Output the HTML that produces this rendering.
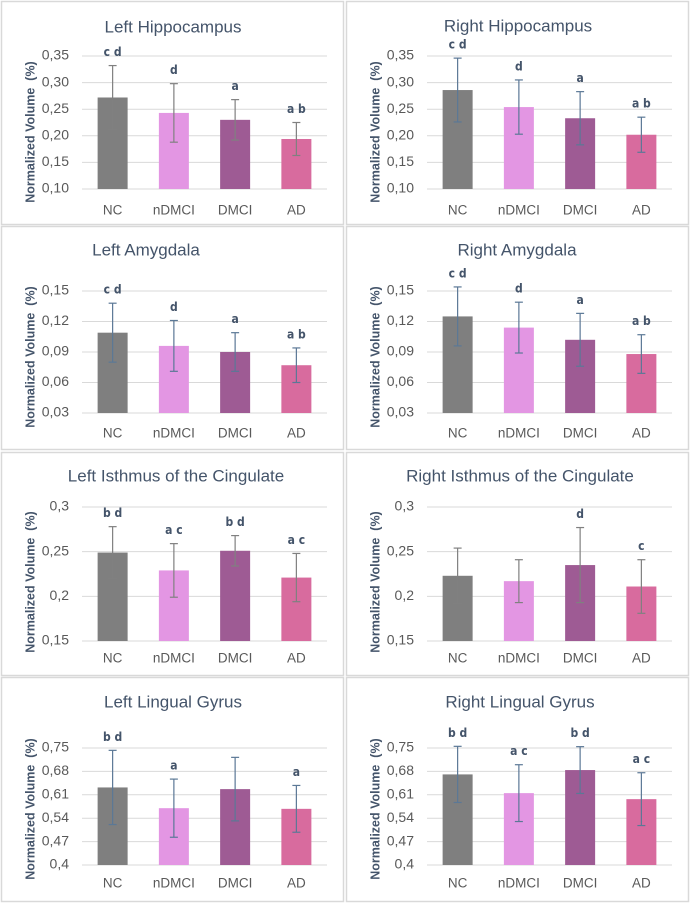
<!DOCTYPE html>
<html><head><meta charset="utf-8">
<style>
html,body{margin:0;padding:0;background:#fff;}
svg{display:block;}
.title{font-family:"Liberation Sans",sans-serif;font-size:17px;fill:#44546a;}
.tick{font-family:"Liberation Sans",sans-serif;font-size:14px;fill:#595959;}
.cat{font-family:"Liberation Sans",sans-serif;font-size:13.5px;fill:#595959;}
.ytitle{font-family:"Liberation Sans",sans-serif;font-size:12.5px;font-weight:bold;fill:#44546a;}
.sig{font-family:"DejaVu Sans Condensed","DejaVu Sans",sans-serif;font-size:12px;font-weight:bold;fill:#44546a;}
</style></head>
<body>
<svg id="fig" width="691" height="904" viewBox="0 0 691 904"></svg>
<script>
const categories = ["NC","nDMCI","DMCI","AD"];
const lhMeans = [0.272,0.243,0.230,0.194];
const lhSds = [0.060,0.055,0.038,0.031];
const lhSig = ["c d","d","a","a b"];
const rhMeans = [0.286,0.254,0.233,0.202];
const rhSds = [0.060,0.051,0.050,0.033];
const rhSig = ["c d","d","a","a b"];
const laMeans = [0.109,0.096,0.090,0.077];
const laSds = [0.029,0.025,0.019,0.017];
const laSig = ["c d","d","a","a b"];
const raMeans = [0.125,0.114,0.102,0.088];
const raSds = [0.029,0.025,0.026,0.019];
const raSig = ["c d","d","a","a b"];
const liMeans = [0.249,0.229,0.251,0.221];
const liSds = [0.029,0.030,0.017,0.027];
const liSig = ["b d","a c","b d","a c"];
const riMeans = [0.223,0.217,0.235,0.211];
const riSds = [0.031,0.024,0.042,0.030];
const riSig = ["","","d","c"];
const llMeans = [0.632,0.570,0.627,0.568];
const llSds = [0.111,0.087,0.095,0.070];
const llSig = ["b d","a","","a"];
const rlMeans = [0.671,0.615,0.684,0.597];
const rlSds = [0.084,0.085,0.070,0.079];
const rlSig = ["b d","a c","b d","a c"];
const hippoTicks = ["0,10","0,15","0,20","0,25","0,30","0,35"];
const amygTicks = ["0,03","0,06","0,09","0,12","0,15"];
const isthTicks = ["0,15","0,2","0,25","0,3"];
const lingTicks = ["0,4","0,47","0,54","0,61","0,68","0,75"];

const barColors = ["#7f7f7f","#e396e3","#9e5b94","#d86b9e"];
const NS = "http://www.w3.org/2000/svg";
const svg = document.getElementById("fig");

function mk(tag, attrs, parent){
  const e = document.createElementNS(NS, tag);
  for (const k in attrs) e.setAttribute(k, attrs[k]);
  (parent||svg).appendChild(e);
  return e;
}
function parseTick(t){ return parseFloat(t.replace(",", ".")); }

const panels = [
  {title:"Left Hippocampus", slug:"left-hippocampus", means:lhMeans, sds:lhSds, sig:lhSig, ticks:hippoTicks, ox:0, top:1, bot:224, gTop:56, gBot:189, ty:28, tx:173, cy:211, yt:132, err:"#808080"},
  {title:"Right Hippocampus", slug:"right-hippocampus", means:rhMeans, sds:rhSds, sig:rhSig, ticks:hippoTicks, ox:345, top:1, bot:224, gTop:56, gBot:189, ty:27, tx:173, cy:211, yt:132, err:"#5b7896"},
  {title:"Left Amygdala", slug:"left-amygdala", means:laMeans, sds:laSds, sig:laSig, ticks:amygTicks, ox:0, top:226, bot:449, gTop:291, gBot:413, ty:251, tx:146, cy:434, yt:357, err:"#5b7896"},
  {title:"Right Amygdala", slug:"right-amygdala", means:raMeans, sds:raSds, sig:raSig, ticks:amygTicks, ox:345, top:226, bot:449, gTop:291, gBot:413, ty:251, tx:172, cy:434, yt:357, err:"#5b7896"},
  {title:"Left Isthmus of the Cingulate", slug:"left-isthmus", means:liMeans, sds:liSds, sig:liSig, ticks:isthTicks, ox:0, top:452, bot:675, gTop:507, gBot:641, ty:477, tx:176, cy:659, yt:582, err:"#808080"},
  {title:"Right Isthmus of the Cingulate", slug:"right-isthmus", means:riMeans, sds:riSds, sig:riSig, ticks:isthTicks, ox:345, top:452, bot:675, gTop:507, gBot:641, ty:477, tx:175, cy:659, yt:582, err:"#808080"},
  {title:"Left Lingual Gyrus", slug:"left-lingual", means:llMeans, sds:llSds, sig:llSig, ticks:lingTicks, ox:0, top:677, bot:901, gTop:748, gBot:865, ty:703, tx:173, cy:884, yt:809, err:"#5b7896"},
  {title:"Right Lingual Gyrus", slug:"right-lingual", means:rlMeans, sds:rlSds, sig:rlSig, ticks:lingTicks, ox:345, top:677, bot:901, gTop:748, gBot:865, ty:703, tx:175, cy:884, yt:809, err:"#5b7896"}
];

panels.forEach(p => {
  const g = mk("g", {});
  
  
  const frame = mk("rect", {x:p.ox+1.5, y:p.top+0.5, width:342, height:p.bot-p.top, fill:"#fff", stroke:"#d9d9d9", "stroke-width":1.5}, g);
  
  

  const tvals = p.ticks.map(parseTick);
  const vmin = tvals[0], vmax = tvals[tvals.length-1];
  const yScale = v => p.gBot - (v - vmin) / (vmax - vmin) * (p.gBot - p.gTop);
  const x0 = p.ox + 82, x1 = p.ox + 327;
  const band = (x1 - x0) / categories.length;
  const xScale = i => x0 + band * (i + 0.5);

  const title = mk("text", {x:p.ox+p.tx, y:p.ty, "text-anchor":"middle", "dominant-baseline":"middle", class:"title"}, g);
  title.textContent = p.title;
  
  

  p.ticks.forEach((t, i) => {
    const y = yScale(tvals[i]);
    const gl = mk("line", {x1:x0, x2:x1, y1:y, y2:y, stroke:"#d9d9d9", "stroke-width":1}, g);
    
    
    const tl = mk("text", {x:p.ox+69, y:y, "text-anchor":"end", "dominant-baseline":"middle", class:"tick"}, g);
    tl.textContent = t;
    
    
  });

  const yt = mk("text", {x:p.ox+31, y:p.yt, "text-anchor":"middle", "dominant-baseline":"middle", class:"ytitle", transform:"rotate(-90 "+(p.ox+31)+" "+p.yt+")"}, g);
  yt.textContent = "Normalized Volume  (%)";
  yt.style.whiteSpace = "pre";
  
  

  categories.forEach((c, i) => {
    const cx = xScale(i);
    const top = yScale(p.means[i]);
    const bar = mk("rect", {x:cx-15, y:top, width:30, height:p.gBot-top, fill:barColors[i]}, g);
    
    

    const eTop = yScale(p.means[i] + p.sds[i]);
    const eBot = yScale(p.means[i] - p.sds[i]);
    const eg = mk("g", {stroke:p.err, "stroke-width":1.2}, g);
    
    
    mk("line", {x1:cx, x2:cx, y1:eTop, y2:eBot}, eg);
    mk("line", {x1:cx-4, x2:cx+4, y1:eTop, y2:eTop}, eg);
    mk("line", {x1:cx-4, x2:cx+4, y1:eBot, y2:eBot}, eg);

    if (p.sig[i]) {
      const s = mk("text", {x:cx, y:eTop-13, "text-anchor":"middle", "dominant-baseline":"middle", class:"sig"}, g);
      s.textContent = p.sig[i];
      
      
    }

    const cl = mk("text", {x:cx, y:p.cy, "text-anchor":"middle", "dominant-baseline":"middle", class:"cat"}, g);
    cl.textContent = c;
    
    
  });
});
</script>
</body></html>
